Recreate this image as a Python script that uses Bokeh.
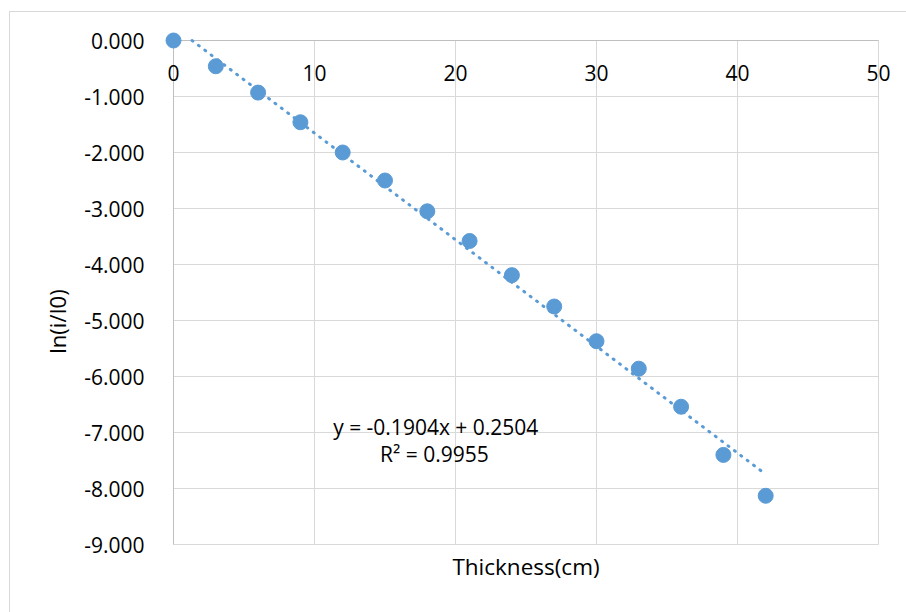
from bokeh.plotting import figure
from bokeh.models import Range1d, FixedTicker, PrintfTickFormatter, Label
from bokeh.core.properties import value
from bokeh.embed import file_html
from bokeh.resources import INLINE

# ---- data ----
thickness = [0, 3, 6, 9, 12, 15, 18, 21, 24, 27, 30, 33, 36, 39, 42]
ln_ratio = [0.0, -0.46, -0.93, -1.46, -2.00, -2.50, -3.05, -3.58, -4.19, -4.75,
            -5.37, -5.86, -6.54, -7.40, -8.13]
x_ticks = [0, 10, 20, 30, 40, 50]
x_tick_labels = ["0", "10", "20", "30", "40", "50"]
y_ticks = [0, -1, -2, -3, -4, -5, -6, -7, -8, -9]
slope = -0.1904
intercept = 0.2504
eq_text = "y = -0.1904x + 0.2504"
r2_text = "R² = 0.9955"

FONT = "Open Sans"
BLUE = "#5b9bd5"
GRID = "#d9d9d9"
AXIS = "#bfbfbf"

X_MIN, X_MAX = 0, 50
Y_MIN, Y_MAX = -9, 0
PXX = 705 / 50.0
PXY = 504 / 9.0
PAD_L, PAD_R, PAD_T = 9, 20, 9
FRAME_H = 580

p = figure(width=897, height=601, output_backend="svg", toolbar_location=None,
           x_range=Range1d(X_MIN - PAD_L / PXX, X_MAX + PAD_R / PXX),
           y_range=Range1d(Y_MAX + PAD_T / PXY - FRAME_H / PXY, Y_MAX + PAD_T / PXY),
           frame_width=705 + PAD_L + PAD_R, frame_height=FRAME_H,
           x_axis_location=None, y_axis_location="left",
           min_border_left=154, min_border_right=9,
           min_border_top=19, min_border_bottom=2)
p.margin = (11, 0, 0, 9)
p.styles = {"border-left": "1px solid #d9d9d9", "border-top": "1px solid #d9d9d9"}
p.outline_line_color = None
p.background_fill_color = "white"
p.border_fill_color = "white"
p.xgrid.grid_line_color = None
p.ygrid.grid_line_color = None

# grid
p.segment(x0=x_ticks, y0=[Y_MIN] * len(x_ticks), x1=x_ticks, y1=[Y_MAX] * len(x_ticks),
          line_color=GRID, line_width=1)
p.segment(x0=[X_MIN] * len(y_ticks), y0=y_ticks, x1=[X_MAX] * len(y_ticks), y1=y_ticks,
          line_color=GRID, line_width=1)
# axis lines (x axis crosses at y=0, y axis at x=0)
p.segment(x0=[0, X_MIN], y0=[Y_MIN, 0], x1=[0, X_MAX], y1=[Y_MAX, 0],
          line_color=AXIS, line_width=1)

# y axis
ax = p.yaxis[0]
ax.ticker = FixedTicker(ticks=y_ticks)
ax.formatter = PrintfTickFormatter(format="%.3f")
ax.axis_line_color = None
ax.major_tick_line_color = None
ax.minor_tick_line_color = None
ax.major_label_standoff = 14
ax.major_label_text_font = FONT
ax.major_label_text_font_size = "21px"
ax.major_label_text_color = "#000000"
ax.axis_label = "ln(i/I0)"
ax.axis_label_standoff = 9
ax.axis_label_text_font = FONT
ax.axis_label_text_font_size = "22px"
ax.axis_label_text_font_style = "normal"
ax.axis_label_text_color = "#000000"

# x tick labels drawn just below the y=0 line
p.text(x=x_ticks, y=[0] * len(x_ticks), text=x_tick_labels, y_offset=32,
       text_font=value(FONT), text_font_size="21px", text_color="#000000",
       text_align="center", text_baseline="middle")

# trendline
x_start = -intercept / slope
tx = [x_start, thickness[-1]]
ty = [slope * v + intercept for v in tx]
p.line(tx, ty, line_color=BLUE, line_width=3, line_dash="1 7", line_cap="round")

# points
p.scatter(thickness, ln_ratio, size=15, fill_color=BLUE, line_color=BLUE)

# equation labels
p.add_layout(Label(x=18.6, y=-6.91, text=eq_text, text_font=FONT, text_font_size="21px",
                   text_align="center", text_baseline="middle", text_color="#000000"))
p.add_layout(Label(x=18.5, y=-7.375, text=r2_text, text_font=FONT, text_font_size="21px",
                   text_align="center", text_baseline="middle", text_color="#000000"))

# x axis title (inside the extended frame, below the plot area)
p.add_layout(Label(x=25, y=-(566 - 40) / PXY, text="Thickness(cm)",
                   text_font=FONT, text_font_size="22.5px",
                   text_align="center", text_baseline="middle", text_color="#000000"))

open("out.html", "w").write(file_html(p, INLINE))
